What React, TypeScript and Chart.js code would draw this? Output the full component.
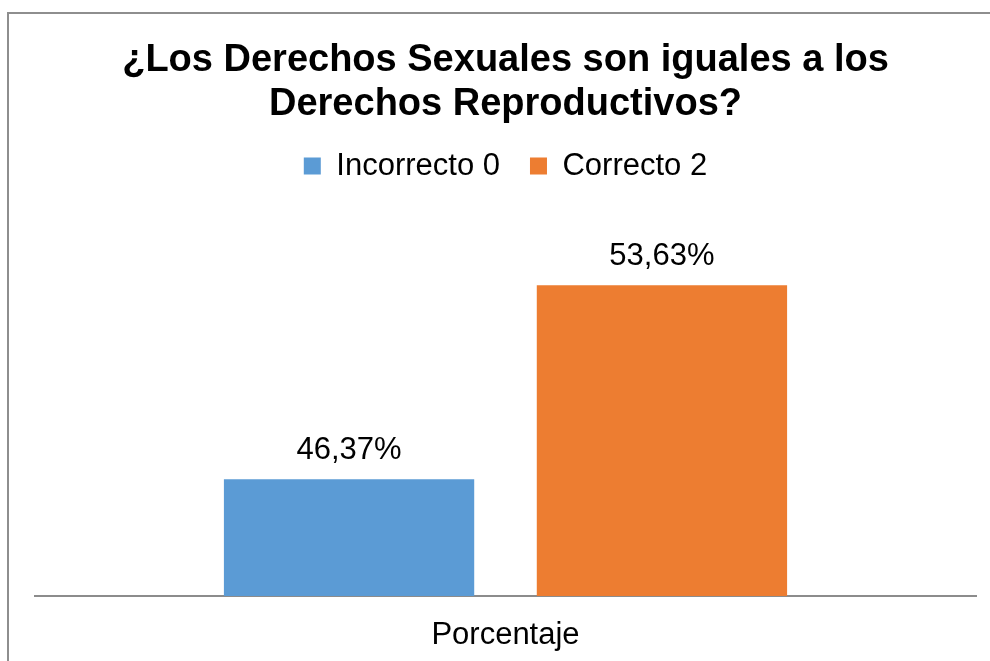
import React, { useEffect, useRef } from "react";
import { Chart, registerables } from "chart.js";

Chart.register(...registerables);

const TITLE_LINES = ["¿Los Derechos Sexuales son iguales a los", "Derechos Reproductivos?"];
const CATEGORIES = ["Porcentaje"];
const SERIES_NAMES = ["Incorrecto 0", "Correcto 2"];
const INCORRECTO = [46.37];
const CORRECTO = [53.63];
const SERIES_COLORS = ["#5B9BD5", "#ED7D31"];
const Y_MIN = 42;
const Y_MAX = 56;

const FONT = "'Liberation Sans', Arial, Helvetica, sans-serif";

const dataLabels = {
  id: "dataLabels",
  afterDatasetsDraw(chart: any) {
    const ctx = chart.ctx;
    ctx.save();
    ctx.font = `31px ${FONT}`;
    ctx.fillStyle = "#000000";
    ctx.textAlign = "center";
    ctx.textBaseline = "alphabetic";
    chart.data.datasets.forEach((ds: any, di: number) => {
      const meta = chart.getDatasetMeta(di);
      meta.data.forEach((bar: any, i: number) => {
        const v = ds.data[i] as number;
        const txt = v.toFixed(2).replace(".", ",") + "%";
        ctx.fillText(txt, bar.x, bar.y - 20);
      });
    });
    ctx.restore();
  },
};

export default function App() {
  const canvasRef = useRef<HTMLCanvasElement | null>(null);

  useEffect(() => {
    document.body.style.margin = "0";
    const canvas = canvasRef.current;
    if (!canvas) return;
    const chart = new Chart(canvas, {
      type: "bar",
      data: {
        labels: CATEGORIES,
        datasets: [
          {
            label: SERIES_NAMES[0],
            data: INCORRECTO,
            backgroundColor: SERIES_COLORS[0],
            borderWidth: 0,
            categoryPercentage: 0.665,
            barPercentage: 0.8,
          },
          {
            label: SERIES_NAMES[1],
            data: CORRECTO,
            backgroundColor: SERIES_COLORS[1],
            borderWidth: 0,
            categoryPercentage: 0.665,
            barPercentage: 0.8,
          },
        ],
      },
      options: {
        responsive: false,
        animation: false,
        devicePixelRatio: 1,
        layout: { padding: { left: 35, right: 14, top: 0, bottom: 10 } },
        plugins: {
          title: {
            display: true,
            text: TITLE_LINES,
            color: "#000000",
            font: { family: FONT, size: 38, weight: "bold", lineHeight: 44 / 38 },
            padding: { top: 39, bottom: -6.5 },
          },
          subtitle: {
            display: true,
            text: "",
            position: "top",
            weight: 500,
            font: { family: FONT, size: 10, lineHeight: 1 },
            padding: { top: 20.5, bottom: 0 },
          },
          legend: {
            display: true,
            position: "top",
            labels: {
              boxWidth: 17,
              boxHeight: 17,
              padding: 30,
              color: "#000000",
              font: { family: FONT, size: 31 },
            },
          },
          tooltip: { enabled: false },
        },
        scales: {
          x: {
            z: 1,
            grid: { display: false },
            border: { display: true, color: "#8c8c8c", width: 2 },
            ticks: { color: "#000000", font: { family: FONT, size: 31 }, padding: 13 },
            afterFit: (scale: any) => {
              scale.height = 55;
            },
          },
          y: { display: false, min: Y_MIN, max: Y_MAX },
        },
      },
      plugins: [dataLabels],
    } as any);
    return () => chart.destroy();
  }, []);

  return (
    <div style={{ position: "relative", width: 990, height: 661, overflow: "hidden", background: "#ffffff" }}>
      <div
        style={{
          position: "absolute",
          left: 7,
          top: 12,
          width: 1100,
          height: 800,
          border: "2px solid #8e8e8e",
          boxSizing: "border-box",
        }}
      />
      <canvas ref={canvasRef} width={990} height={661} style={{ position: "absolute", left: 0, top: 0 }} />
    </div>
  );
}
